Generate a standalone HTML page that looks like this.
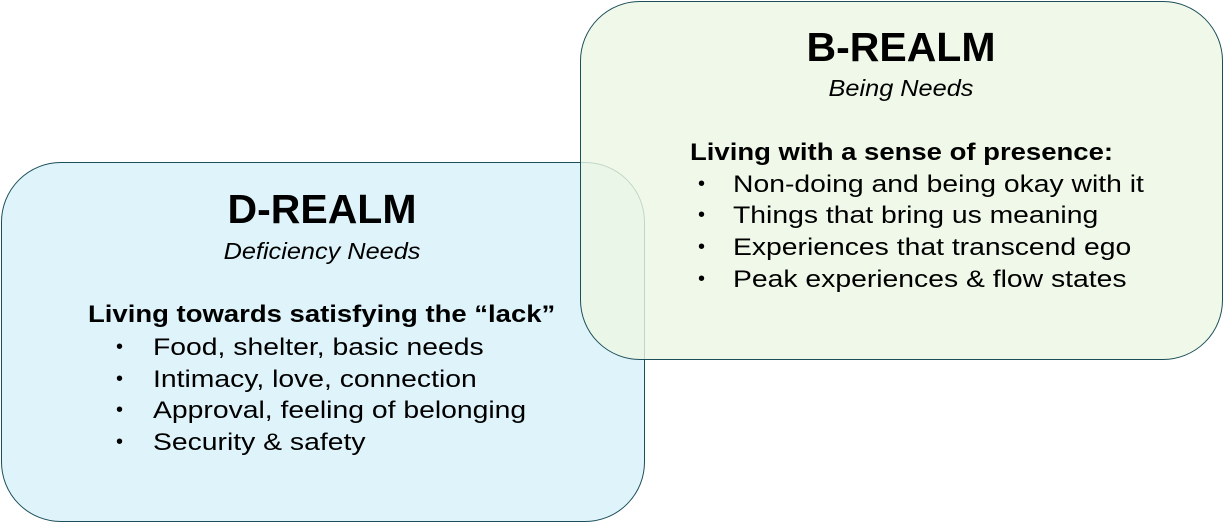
<!DOCTYPE html>
<html><head><style>
body{margin:0;width:1224px;height:523px;background:#fff;position:relative;overflow:hidden;font-family:"Liberation Sans",sans-serif;color:#000}
.box{position:absolute;border:1.5px solid #1d4f5a;border-radius:60px;box-sizing:border-box}
#d{left:1px;top:162px;width:644px;height:360px;background:#dff4fa}
#b{left:580px;top:1px;width:643px;height:359px;background:rgba(236,247,228,0.8)}
.t{position:absolute;white-space:nowrap}
.h1{font-weight:bold;font-size:41px;text-align:center;width:300px}
.it{font-style:italic;font-size:23px;text-align:center;width:300px;transform:scaleX(1.1)}
.hd{font-weight:bold;font-size:24px;transform:scaleX(1.145);transform-origin:left}
.li{font-size:24px;transform:scaleX(1.18);transform-origin:left}
.bu{position:absolute;font-size:20px}
</style></head><body>
<div class="box" id="d"></div>
<div class="box" id="b"></div>

<div class="t h1" style="left:172px;top:186px">D-REALM</div>
<div class="t it" style="left:172px;top:238px">Deficiency Needs</div>
<div class="t hd" style="left:88px;top:301px">Living towards satisfying the “lack”</div>
<div class="t li" style="left:153px;top:334px">Food, shelter, basic needs</div>
<div class="t li" style="left:153px;top:366px">Intimacy, love, connection</div>
<div class="t li" style="left:153px;top:397px">Approval, feeling of belonging</div>
<div class="t li" style="left:153px;top:429px">Security &amp; safety</div>
<div class="bu" style="left:116px;top:336px">•</div>
<div class="bu" style="left:116px;top:368px">•</div>
<div class="bu" style="left:116px;top:399px">•</div>
<div class="bu" style="left:116px;top:431px">•</div>

<div class="t h1" style="left:751px;top:24px">B-REALM</div>
<div class="t it" style="left:751px;top:75px">Being Needs</div>
<div class="t hd" style="left:690px;top:139px">Living with a sense of presence:</div>
<div class="t li" style="left:733px;top:171px">Non-doing and being okay with it</div>
<div class="t li" style="left:733px;top:202px">Things that bring us meaning</div>
<div class="t li" style="left:733px;top:234px">Experiences that transcend ego</div>
<div class="t li" style="left:733px;top:266px">Peak experiences &amp; flow states</div>
<div class="bu" style="left:698px;top:173px">•</div>
<div class="bu" style="left:698px;top:204px">•</div>
<div class="bu" style="left:698px;top:236px">•</div>
<div class="bu" style="left:698px;top:268px">•</div>
</body></html>
